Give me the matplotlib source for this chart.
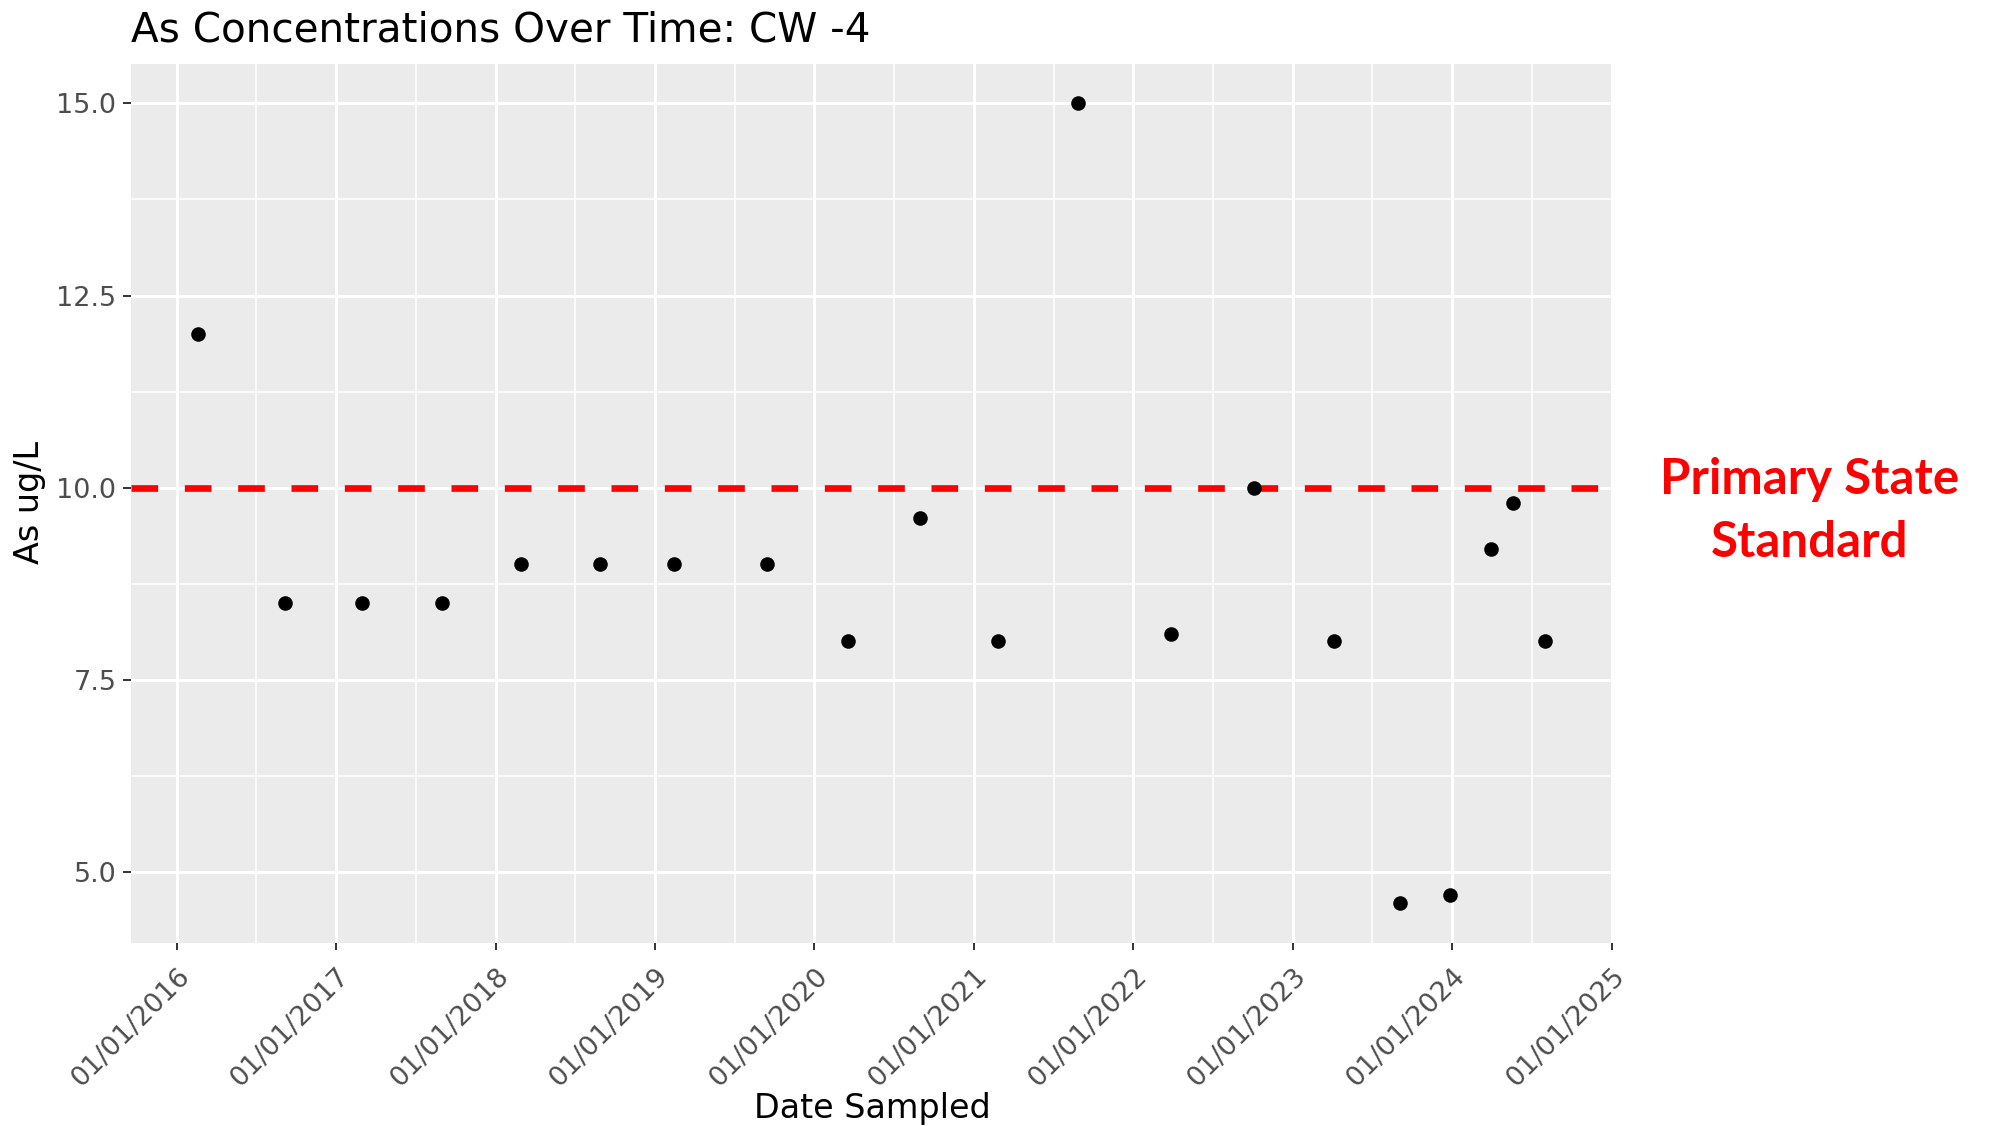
import matplotlib
matplotlib.use("Agg")
import matplotlib.pyplot as plt
import matplotlib.dates as mdates
import pandas as pd
import numpy as np

# ---- data ----
sample_dates = ["2016-02-20", "2016-09-06", "2017-03-01", "2017-09-01", "2018-02-27",
                "2018-08-29", "2019-02-13", "2019-09-15", "2020-03-17", "2020-08-30",
                "2021-02-24", "2021-08-27", "2022-03-28", "2022-10-03", "2023-04-05",
                "2023-09-03", "2023-12-26", "2024-03-29", "2024-05-20", "2024-08-01"]
as_values = [12.0, 8.5, 8.5, 8.5, 9.0, 9.0, 9.0, 9.0, 8.0, 9.6,
             8.0, 15.0, 8.1, 10.0, 8.0, 4.6, 4.7, 9.2, 9.8, 8.0]
standard_value = 10.0
standard_label = "Primary State\nStandard"
title_text = "As Concentrations Over Time: CW -4"
x_label = "Date Sampled"
y_label = "As ug/L"
x_tick_years = list(range(2016, 2026))
y_ticks = [5.0, 7.5, 10.0, 12.5, 15.0]
y_minor = [6.25, 8.75, 11.25, 13.75]

dates = pd.to_datetime(sample_dates)
xnum = mdates.date2num(dates)

W, H = 1993, 1126
fig = plt.figure(figsize=(W / 100, H / 100), dpi=100)
ax = fig.add_axes([131 / W, 1 - 942.5 / H, (1612.5 - 131) / W, (942.5 - 63.5) / H])
ax.set_facecolor("#EBEBEB")
for s in ax.spines.values():
    s.set_visible(False)

major_x = mdates.date2num(pd.to_datetime([f"{y}-01-01" for y in x_tick_years]))
minor_x = (major_x[:-1] + major_x[1:]) / 2
ax.set_xticks(major_x)
ax.set_xticks(minor_x, minor=True)
ax.xaxis.set_major_formatter(mdates.DateFormatter("%m/%d/%Y"))
ax.set_yticks(y_ticks)
ax.set_yticks(y_minor, minor=True)
ax.set_yticklabels([f"{v:.1f}" for v in y_ticks])

# limits with ggplot-like 5% expansion (set after ticks)
xr = xnum.max() - xnum.min()
ax.set_xlim(xnum.min() - 0.05 * xr, xnum.max() + 0.05 * xr)
yv = np.array(as_values)
yr = yv.max() - yv.min()
ax.set_ylim(yv.min() - 0.05 * yr, yv.max() + 0.05 * yr)

ax.grid(which="major", color="white", linewidth=2.2)
ax.grid(which="minor", color="white", linewidth=1.1)
ax.set_axisbelow(True)
ax.tick_params(axis="y", which="major", length=5.5, width=1.4, color="#333333",
               labelsize=19.5, labelcolor="#4D4D4D", pad=5)
ax.tick_params(axis="x", which="major", length=5.2, width=1.4, color="#333333",
               labelsize=19.5, labelcolor="#4D4D4D", pad=9.5)
ax.tick_params(which="minor", length=0)

for lbl in ax.get_xticklabels():
    lbl.set_rotation(45)
    lbl.set_ha("right")
    lbl.set_va("top")
    lbl.set_rotation_mode("anchor")

ax.axhline(standard_value, color="#FF0000", linewidth=4.8, linestyle=(0, (4, 4)), zorder=2)
ax.scatter(xnum, as_values, s=110, color="black", zorder=3, linewidths=0)

fig.text(131 / W, 1 - 42 / H, title_text, fontsize=29.2, ha="left", va="baseline")
fig.text(872 / W, 1 - 1118 / H, x_label, fontsize=24, ha="center", va="baseline")
fig.text(30 / W, 1 - 503 / H, y_label, fontsize=24, ha="center", va="center", rotation=90)
fig.text(1810 / W, 1 - 511 / H, standard_label, fontsize=35.5, ha="center", va="center",
         color="#FF0000", fontweight="bold", family=["Lato", "DejaVu Sans"], linespacing=1.5)

fig.savefig("out.png", dpi=100)
